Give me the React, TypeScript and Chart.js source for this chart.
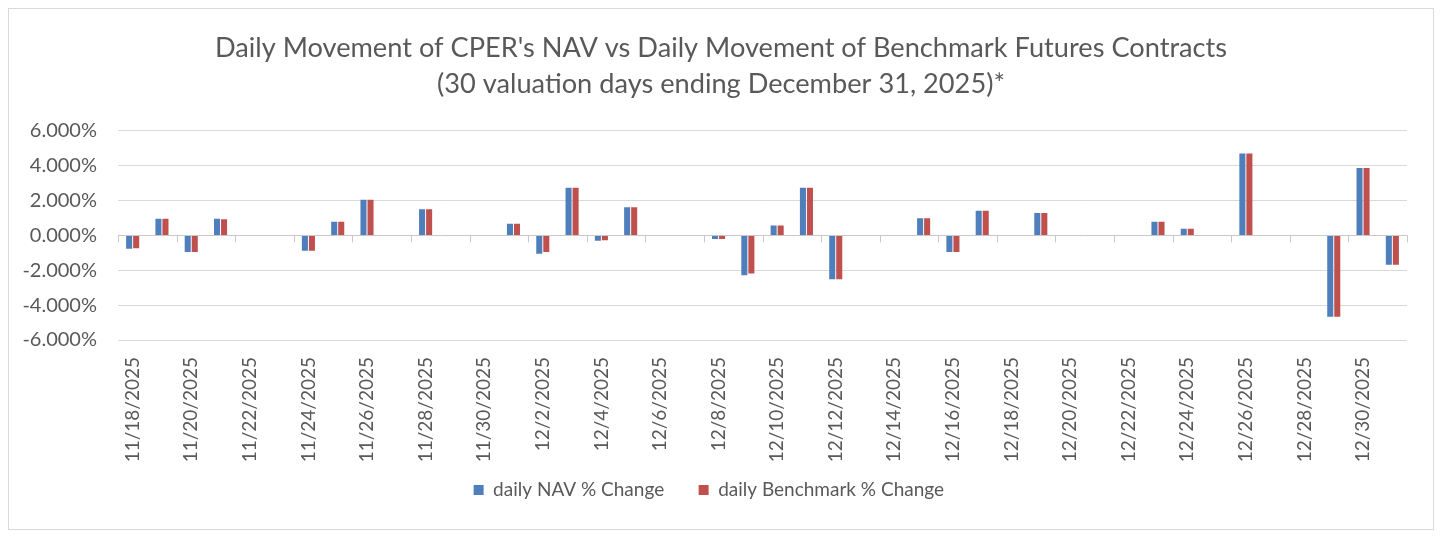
import React, { useEffect, useRef } from "react";
import { Chart, registerables } from "chart.js";

Chart.register(...registerables);

const dates: string[] = [
  "11/18/2025", "11/19/2025", "11/20/2025", "11/21/2025", "11/22/2025", "11/23/2025",
  "11/24/2025", "11/25/2025", "11/26/2025", "11/27/2025", "11/28/2025", "11/29/2025",
  "11/30/2025", "12/1/2025", "12/2/2025", "12/3/2025", "12/4/2025", "12/5/2025",
  "12/6/2025", "12/7/2025", "12/8/2025", "12/9/2025", "12/10/2025", "12/11/2025",
  "12/12/2025", "12/13/2025", "12/14/2025", "12/15/2025", "12/16/2025", "12/17/2025",
  "12/18/2025", "12/19/2025", "12/20/2025", "12/21/2025", "12/22/2025", "12/23/2025",
  "12/24/2025", "12/25/2025", "12/26/2025", "12/27/2025", "12/28/2025", "12/29/2025",
  "12/30/2025", "12/31/2025",
];

const navChange: (number | null)[] = [
  -0.76, 0.95, -0.95, 0.95, null, null,
  -0.88, 0.78, 2.04, null, 1.5, null,
  null, 0.67, -1.05, 2.74, -0.3, 1.62,
  null, null, -0.2, -2.29, 0.57, 2.74,
  -2.51, null, null, 0.99, -0.95, 1.41,
  0, 1.28, null, null, 0, 0.78,
  0.38, null, 4.7, null, null, -4.67,
  3.87, -1.68,
];

const benchmarkChange: (number | null)[] = [
  -0.74, 0.95, -0.95, 0.93, null, null,
  -0.88, 0.78, 2.04, null, 1.5, null,
  null, 0.67, -0.95, 2.74, -0.28, 1.62,
  null, null, -0.2, -2.19, 0.57, 2.74,
  -2.51, null, null, 0.99, -0.95, 1.41,
  0, 1.28, null, null, 0, 0.78,
  0.38, null, 4.7, null, null, -4.67,
  3.87, -1.68,
];

const titleLines: string[] = [
  "Daily Movement of CPER's NAV vs Daily Movement of Benchmark Futures Contracts",
  "(30 valuation days ending December 31, 2025)*",
];

const seriesNames: string[] = ["daily NAV % Change", "daily Benchmark % Change"];

const TEXT = "#595959";
const FONT = "Lato, 'Open Sans', sans-serif";
const LEGEND_GAPS = ["    ", "     "];

const zeroTicks = {
  id: "zeroTicks",
  afterDatasetsDraw(chart: any) {
    const x = chart.scales.x;
    const y = chart.scales.y;
    const ctx = chart.ctx;
    const y0 = y.getPixelForValue(0);
    const n = x.ticks.length;
    const step = (x.right - x.left) / n;
    ctx.save();
    ctx.strokeStyle = "#c8c8c8";
    ctx.lineWidth = 1;
    for (let i = 0; i <= n; i += 2) {
      const px = Math.round(x.getPixelForValue(Math.min(i, n - 1)) + (i === n ? step / 2 : -step / 2)) + 0.5;
      ctx.beginPath();
      ctx.moveTo(px, y0);
      ctx.lineTo(px, y0 + 7);
      ctx.stroke();
    }
    ctx.restore();
  },
};

export default function App() {
  const ref = useRef<HTMLCanvasElement | null>(null);

  useEffect(() => {
    if (!ref.current) return;
    const chart = new Chart(ref.current, {
      type: "bar",
      data: {
        labels: dates,
        datasets: [
          {
            label: seriesNames[0],
            data: navChange,
            backgroundColor: "#4F7EBD",
            categoryPercentage: 0.48,
            barPercentage: 0.86,
          },
          {
            label: seriesNames[1],
            data: benchmarkChange,
            backgroundColor: "#C0504D",
            categoryPercentage: 0.48,
            barPercentage: 0.86,
          },
        ],
      },
      plugins: [zeroTicks],
      options: {
        animation: false,
        responsive: false,
        maintainAspectRatio: false,
        layout: { padding: { left: 0, right: 0, top: 0, bottom: 19.5 } },
        plugins: {
          title: {
            display: true,
            text: titleLines,
            color: TEXT,
            font: { family: FONT, size: 27.2, weight: "normal", lineHeight: 1.32 },
            padding: { top: 21, bottom: 29 },
          },
          legend: {
            position: "bottom",
            labels: {
              color: TEXT,
              font: { family: FONT, size: 19 },
              boxWidth: 10,
              boxHeight: 10,
              padding: 15,
              generateLabels(c: any) {
                const items = Chart.defaults.plugins.legend.labels.generateLabels(c);
                return items.map((it: any, i: number) => ({ ...it, text: it.text + (LEGEND_GAPS[i] || "") }));
              },
            },
          },
          tooltip: { enabled: false },
        },
        scales: {
          x: {
            grid: { display: false },
            border: { display: false },
            afterFit(scale: any) {
              scale.height = 125.5;
            },
            ticks: {
              autoSkip: false,
              minRotation: 90,
              maxRotation: 90,
              padding: 9,
              color: TEXT,
              font: { family: FONT, size: 19 },
              callback(_v: any, i: number) {
                return i % 2 === 0 ? dates[i] : "";
              },
            },
          },
          y: {
            min: -6,
            max: 6,
            afterFit(scale: any) {
              scale.width = 109;
            },
            border: { display: false },
            grid: {
              drawTicks: false,
              color: (c: any) => (c.tick && c.tick.value === 0 ? "#c8c8c8" : "#d9d9d9"),
            },
            ticks: {
              stepSize: 2,
              padding: 21,
              color: TEXT,
              font: { family: FONT, size: 20 },
              callback(v: any) {
                return Number(v).toFixed(3) + "%";
              },
            },
          },
          yRight: {
            position: "right",
            grid: { display: false },
            border: { display: false },
            ticks: { display: false },
            afterFit(scale: any) {
              scale.width = 26;
            },
          },
        },
      },
    });
    return () => chart.destroy();
  }, []);

  return (
    <div style={{ width: 1424, height: 520, border: "1px solid #d9d9d9" }}>
      <canvas ref={ref} width={1424} height={520} style={{ display: "block" }} />
    </div>
  );
}
